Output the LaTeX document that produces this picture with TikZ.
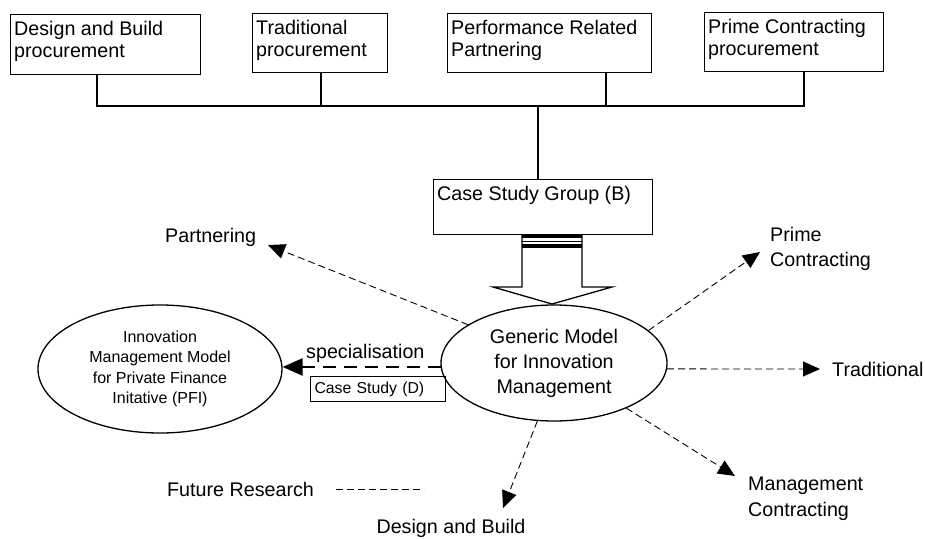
\documentclass[tikz,border=0pt]{standalone}
\usepackage{fontspec}
\setmainfont{Liberation Sans}
\usetikzlibrary{shapes.geometric,arrows.meta}
\begin{document}
\begin{tikzpicture}[x=1pt,y=-1pt,
  box/.style={draw,line width=1.2pt,anchor=north west,inner sep=0pt},
  boxtext/.style={anchor=north west,align=left,inner xsep=4pt,inner ysep=7pt,
    font=\fontsize{19.7}{22.5}\selectfont},
  lbl/.style={font=\fontsize{19.7}{25.5}\selectfont,align=left,inner sep=0pt},
  link/.style={line width=1.2pt},
  model/.style={ellipse,draw,line width=1.3pt,inner sep=0pt,align=center},
  flow/.style={line width=0.9pt,dash pattern=on 7pt off 4pt,
    -{Triangle[length=17pt,width=15pt]}},
  dashonly/.style={line width=0.9pt,dash pattern=on 7pt off 4pt},
  special/.style={line width=2.6pt,dash pattern=on 13pt off 8pt,
    -{Triangle[length=20pt,width=17pt]}}
]
\useasboundingbox (0,0) rectangle (925,538);

% procurement routes
\node[box,minimum width=190pt,minimum height=60pt] (b1) at (10,14) {};
\node[boxtext] (t1) at (b1.north west) {Design and Build\\procurement};
\node[box,minimum width=135pt,minimum height=59pt] (b2) at (252,13) {};
\node[boxtext] (t2) at (b2.north west) {Traditional\\procurement};
\node[box,minimum width=204pt,minimum height=59pt] (b3) at (447,13) {};
\node[boxtext] (t3) at (b3.north west) {Performance Related\\Partnering};
\node[box,minimum width=179pt,minimum height=59pt] (b4) at (704,12) {};
\node[boxtext] (t4) at (b4.north west) {Prime Contracting\\procurement};

% case study group
\node[box,minimum width=219pt,minimum height=55pt] (cb) at (433,179) {};
\node[boxtext] (cbt) at (cb.north west) {Case Study Group (B)};

% bus joining the routes to the case study group
\coordinate (d1) at (97,106);
\coordinate (d2) at (321,106);
\coordinate (d3) at (606,106);
\coordinate (d4) at (804,106);
\coordinate (d0) at (538,106);
\draw[link] (b1.south -| d1) -- (d1) -- (d4) -- (b4.south -| d4);
\draw[link] (b2.south -| d2) -- (d2);
\draw[link] (b3.south -| d3) -- (d3);
\draw[link] (d0) -- (cb.north -| d0);

% block arrow from the case study group to the generic model
\fill (522,234) rectangle (582,238);
\draw[line width=0.8pt] (522,241) -- (582,241);
\fill (522,244) rectangle (582,247.5);
\draw[line width=1.3pt] (522,234) -- (522,287) -- (493,287) -- (552,304)
  -- (612,287) -- (582,287) -- (582,234);

% models
\node[model,minimum width=226pt,minimum height=116pt,
  font=\fontsize{19.7}{25}\selectfont] (gm) at (554,363)
  {Generic Model\\for Innovation\\Management};
\node[model,minimum width=244pt,minimum height=128pt,
  font=\fontsize{16}{20.4}\selectfont] (pfi) at (160,369)
  {Innovation\\Management Model\\for Private Finance\\Initative (PFI)};

% specialisation towards PFI
\draw[special] (gm.182) -- (gm.182 -| pfi.east);
\node[lbl,anchor=base west] (spec) at (306,358) {specialisation};
\node[draw,line width=1pt,anchor=north west,minimum width=135pt,minimum height=25pt,
  text width=127pt,inner xsep=4pt,inner ysep=0pt,align=left,
  font=\fontsize{15.8}{18}\selectfont] (csd) at (310,376) {Case Study (D)};

% future research directions
\coordinate (tPart) at (268,245);
\coordinate (tPrime) at (760,252);
\coordinate (tTrad) at (820,369);
\coordinate (tMan) at (735,476);
\coordinate (tDB) at (503,508);
\draw[flow] (gm.156) -- (tPart);
\draw[flow] (gm.19) -- (tPrime);
\draw[flow] (gm.357) -- (tTrad);
\draw[flow] (gm.328.4) -- (tMan);
\draw[flow] (gm.254) -- (tDB);

\node[lbl,anchor=west] (lPart) at (165,237) {Partnering};
\node[lbl,anchor=west] (lPrime) at (770,249) {Prime\\Contracting};
\node[lbl,anchor=west] (lTrad) at (832,369) {Traditional};
\node[lbl,anchor=west] (lMan) at (748,499) {Management\\Contracting};
\node[lbl] (lDB) at (451,528) {Design and Build};

% legend
\node[lbl,anchor=west] (lFR) at (167,489) {Future Research};
\draw[dashonly] ([xshift=22pt]lFR.east) -- ++(88,0);
\end{tikzpicture}
\end{document}
